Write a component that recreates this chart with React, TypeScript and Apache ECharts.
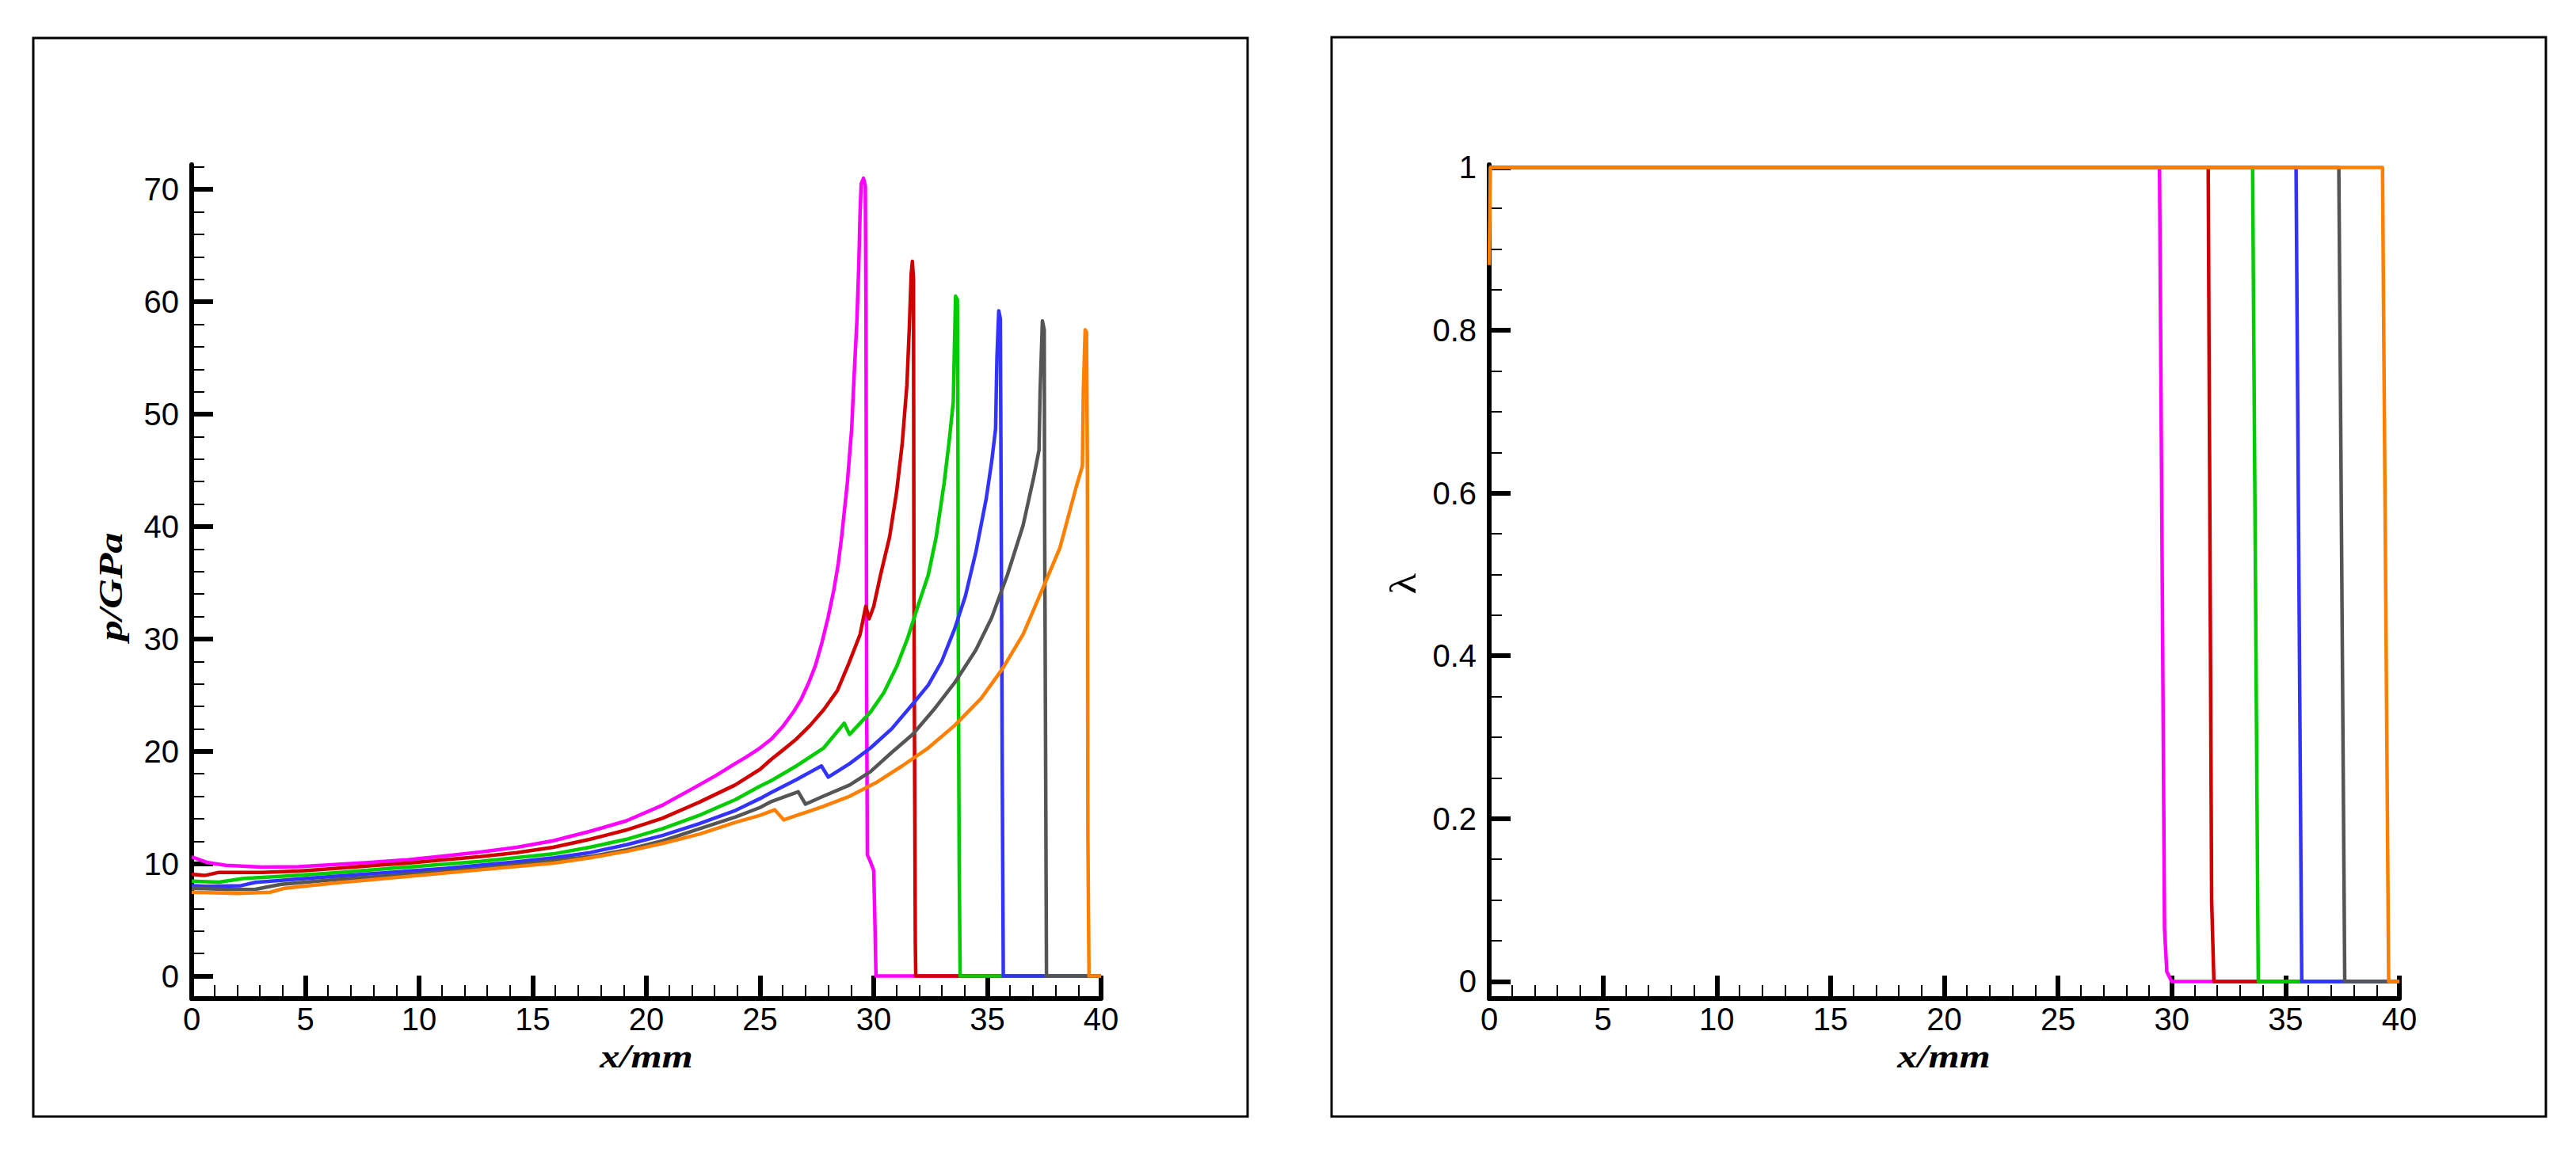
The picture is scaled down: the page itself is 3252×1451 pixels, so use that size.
import React, { useEffect, useRef } from "react";
import * as echarts from "echarts";

// ---------- tick values ----------
const xRange = [0, 40];
const pMajorTicks = [0, 10, 20, 30, 40, 50, 60, 70];
const pMinorTicks = [2, 4, 6, 8, 12, 14, 16, 18, 22, 24, 26, 28, 32, 34, 36, 38, 42, 44, 46, 48, 52, 54, 56, 58, 62, 64, 66, 68, 72];
const lambdaMajorTicks = [0, 0.2, 0.4, 0.6, 0.8, 1];
const lambdaMinorTicks = [0.05, 0.1, 0.15, 0.25, 0.3, 0.35, 0.45, 0.5, 0.55, 0.65, 0.7, 0.75, 0.85, 0.9, 0.95];

// ---------- colours ----------
const seriesColors = ["#FF00FF", "#D00000", "#00CC00", "#3333FF", "#555555", "#FF8000"];

// ---------- pressure p/GPa vs x/mm ----------
const pMagenta: [number, number][] = [
  [0, 10.6], [0.7, 10.1], [1.5, 9.86], [3.1, 9.7], [4.7, 9.74], [6.3, 9.93], [7.9, 10.12], [9.5, 10.35],
  [11.1, 10.68], [12.7, 11.04], [14.3, 11.46], [15.9, 12.04], [17.5, 12.87], [19.1, 13.8], [20.7, 15.2],
  [22.3, 16.98], [23.1, 17.9], [23.9, 18.9], [24.4, 19.5], [25.0, 20.3], [25.5, 21.1], [26.0, 22.2],
  [26.5, 23.6], [26.8, 24.6], [27.14, 26.1], [27.43, 27.6], [27.7, 29.5], [27.99, 31.9], [28.24, 34.3],
  [28.44, 36.7], [28.59, 39.1], [28.84, 43.9], [29.03, 48.7], [29.14, 53.5], [29.26, 58.3],
  [29.34, 63.1], [29.4, 67.9], [29.45, 70.5], [29.55, 71.0], [29.63, 70.3], [29.66, 60], [29.69, 25],
  [29.72, 10.8], [29.85, 10.2], [30.0, 9.4], [30.05, 5], [30.1, 0], [40, 0],
];
const pRed: [number, number][] = [
  [0, 9.06], [0.57, 8.95], [1.2, 9.23], [3.1, 9.23], [4.7, 9.34], [6.3, 9.58], [7.9, 9.82], [9.5, 10.05],
  [11.1, 10.35], [12.7, 10.63], [14.3, 10.99], [15.9, 11.46], [17.5, 12.16], [19.1, 12.99], [20.7, 14.04],
  [22.3, 15.45], [23.9, 17.0], [25.0, 18.4], [25.5, 19.3], [26.0, 20.1], [26.6, 21.1], [27.2, 22.3],
  [27.8, 23.7], [28.4, 25.4], [28.9, 27.8], [29.4, 30.4], [29.65, 32.9], [29.8, 31.8], [30.0, 32.9],
  [30.3, 35.7], [30.7, 39.1], [31.0, 43.0], [31.25, 47.3], [31.46, 52.6], [31.57, 57.9], [31.65, 62.5],
  [31.7, 63.6], [31.75, 62], [31.77, 34], [31.83, 3], [31.85, 0], [40, 0],
];
const pGreen: [number, number][] = [
  [0, 8.45], [1.2, 8.36], [2.3, 8.69], [3.9, 8.87], [6.3, 9.18], [9.5, 9.7], [12.7, 10.21], [15.9, 10.87],
  [17.5, 11.46], [19.1, 12.16], [20.7, 13.1], [22.3, 14.28], [23.9, 15.69], [25.0, 16.9], [25.5, 17.4],
  [26.6, 18.7], [27.8, 20.3], [28.7, 22.5], [28.94, 21.5], [29.17, 22.0], [29.86, 23.5], [30.44, 25.2],
  [31.02, 27.6], [31.48, 30.0], [31.94, 32.9], [32.4, 35.7], [32.75, 39.1], [33.1, 43.9], [33.33, 47.8],
  [33.5, 51.1], [33.55, 56], [33.6, 60.5], [33.68, 60.2], [33.7, 52], [33.72, 30], [33.76, 10], [33.8, 0], [40, 0],
];
const pBlue: [number, number][] = [
  [0, 8.05], [0.73, 7.98], [2.17, 8.05], [2.81, 8.34], [4.73, 8.64], [7.93, 9.11], [11.13, 9.58], [14.33, 10.17],
  [15.93, 10.52], [17.53, 10.99], [19.13, 11.69], [20.73, 12.52], [22.33, 13.57], [23.93, 14.75], [25.0, 15.8],
  [25.46, 16.3], [26.62, 17.5], [27.7, 18.7], [28.0, 17.7], [28.94, 18.9], [29.86, 20.3], [30.79, 22.0],
  [31.71, 24.2], [32.4, 25.9], [32.99, 28.0], [33.56, 30.9], [34.03, 33.8], [34.49, 37.7], [34.95, 42.5],
  [35.19, 45.8], [35.36, 48.7], [35.42, 55], [35.5, 59.2], [35.57, 58.5], [35.6, 45], [35.65, 20], [35.7, 0], [40, 0],
];
const pGray: [number, number][] = [
  [0, 7.82], [1.53, 7.7], [2.81, 7.73], [3.93, 8.17], [6.33, 8.59], [9.53, 9.06], [12.73, 9.58], [15.93, 10.28],
  [17.53, 10.63], [19.13, 11.23], [20.73, 12.04], [22.33, 13.1], [23.93, 14.16], [25.0, 15.0], [25.46, 15.5],
  [26.68, 16.4], [27.0, 15.3], [27.78, 16.0], [28.94, 17.0], [29.86, 18.2], [30.79, 19.9], [31.71, 21.5],
  [32.64, 23.7], [33.56, 26.1], [34.49, 29.0], [35.19, 31.9], [35.88, 35.7], [36.57, 40.1], [37.04, 44.4],
  [37.27, 46.8], [37.32, 52], [37.42, 58.3], [37.5, 57.5], [37.52, 40], [37.6, 0], [40, 0],
];
const pOrange: [number, number][] = [
  [0, 7.46], [2.01, 7.35], [3.45, 7.46], [4.09, 7.82], [6.33, 8.29], [9.53, 8.87], [12.73, 9.46], [15.93, 10.05],
  [17.53, 10.52], [19.13, 11.1], [20.73, 11.81], [22.33, 12.63], [23.93, 13.69], [25.0, 14.3], [25.64, 14.8],
  [26.04, 13.9], [26.62, 14.3], [27.78, 15.1], [28.94, 16.0], [30.09, 17.2], [31.25, 18.7], [32.4, 20.3],
  [33.56, 22.3], [34.72, 24.7], [35.65, 27.3], [36.57, 30.4], [37.5, 34.8], [38.19, 38.1], [38.89, 43.4],
  [39.18, 45.4], [39.22, 52], [39.3, 57.5], [39.36, 57.3], [39.4, 45], [39.42, 12.6], [39.47, 0], [40, 0],
];

// ---------- reaction progress lambda vs x/mm ----------
const lamMagenta: [number, number][] = [[0, 1], [29.46, 1], [29.68, 0.065], [29.78, 0.012], [29.99, 0], [40, 0]];
const lamRed: [number, number][] = [[0, 1], [31.6, 1], [31.75, 0.1], [31.85, 0], [40, 0]];
const lamGreen: [number, number][] = [[0, 1], [33.55, 1], [33.8, 0], [40, 0]];
const lamBlue: [number, number][] = [[0, 1], [35.46, 1], [35.71, 0], [40, 0]];
const lamGray: [number, number][] = [[0, 1], [37.34, 1], [37.6, 0], [40, 0]];
const lamOrange: [number, number][] = [[0, 0.88], [0.05, 1], [39.26, 1], [39.53, 0], [40, 0]];

const pressureSeries = [pMagenta, pRed, pGreen, pBlue, pGray, pOrange];
const lambdaSeries = [lamMagenta, lamRed, lamGreen, lamBlue, lamGray, lamOrange];

const LABEL_FONT = '"Liberation Sans", Arial, Helvetica, sans-serif';
const TITLE_FONT = '"Liberation Serif", "Times New Roman", serif';

function makeXAxis(gridIndex: number) {
  return {
    type: "value",
    gridIndex,
    position: "bottom",
    min: xRange[0],
    max: xRange[1],
    interval: 5,
    axisLine: { show: true, onZero: false, lineStyle: { color: "#000", width: 6 } },
    axisTick: { show: true, inside: true, length: 29, lineStyle: { color: "#000", width: 6 } },
    minorTick: { show: true, splitNumber: 5, length: 17, lineStyle: { color: "#000", width: 2 } },
    axisLabel: { show: true, color: "#000", fontSize: 40, fontFamily: LABEL_FONT, margin: 6 },
    splitLine: { show: false },
    minorSplitLine: { show: false },
  };
}

function makeYAxes(gridIndex: number, min: number, max: number, major: number[], minor: number[]) {
  return [
    {
      type: "value",
      gridIndex,
      position: "left",
      offset: 0,
      min,
      max,
      axisLine: { show: true, onZero: false, lineStyle: { color: "#000", width: 6 } },
      axisTick: { show: true, inside: true, length: 27, customValues: major, lineStyle: { color: "#000", width: 6 } },
      axisLabel: { show: true, customValues: major, color: "#000", fontSize: 40, fontFamily: LABEL_FONT, margin: 16 },
      splitLine: { show: false },
    },
    {
      type: "value",
      gridIndex,
      position: "left",
      offset: 0,
      min,
      max,
      axisLine: { show: false, onZero: false },
      axisTick: { show: true, inside: true, length: 16, customValues: minor, lineStyle: { color: "#000", width: 2 } },
      axisLabel: { show: false },
      splitLine: { show: false },
    },
  ];
}

export default function App() {
  const ref = useRef<HTMLDivElement>(null);

  useEffect(() => {
    document.body.style.margin = "0";
    if (!ref.current) return;
    const chart = echarts.init(ref.current, undefined, { renderer: "svg" });

    const series: any[] = [];
    pressureSeries.forEach((data, i) => {
      series.push({
        type: "line",
        xAxisIndex: 0,
        yAxisIndex: 0,
        data,
        symbol: "none",
        showSymbol: false,
        lineStyle: { color: seriesColors[i], width: 4.5, join: "round" },
        itemStyle: { color: seriesColors[i] },
        z: 2 + i,
      });
    });
    lambdaSeries.forEach((data, i) => {
      series.push({
        type: "line",
        xAxisIndex: 1,
        yAxisIndex: 2,
        data,
        symbol: "none",
        showSymbol: false,
        lineStyle: { color: seriesColors[i], width: 4.5, join: "round" },
        itemStyle: { color: seriesColors[i] },
        z: 2 + i,
      });
    });

    chart.setOption({
      animation: false,
      backgroundColor: "#fff",
      grid: [
        { left: 242, top: 208, width: 1148, height: 1053, containLabel: false, outerBoundsMode: "none" },
        { left: 1880, top: 208, width: 1149, height: 1053, containLabel: false, outerBoundsMode: "none" },
      ],
      xAxis: [makeXAxis(0), makeXAxis(1)],
      yAxis: [
        ...makeYAxes(0, -2, 72.2, pMajorTicks, pMinorTicks),
        ...makeYAxes(1, -0.021, 1.0034, lambdaMajorTicks, lambdaMinorTicks),
      ],
      graphic: [
        {
          type: "rect",
          shape: { x: 42, y: 48, width: 1533, height: 1362 },
          style: { fill: "none", stroke: "#000", lineWidth: 3 },
          silent: true,
        },
        {
          type: "rect",
          shape: { x: 1681, y: 47, width: 1533, height: 1363 },
          style: { fill: "none", stroke: "#000", lineWidth: 3 },
          silent: true,
        },
        {
          type: "text",
          x: 816,
          y: 1334,
          scaleX: 1.2,
          style: { text: "x/mm", font: `italic bold 42px ${TITLE_FONT}`, fill: "#000", align: "center", verticalAlign: "middle" },
        },
        {
          type: "text",
          x: 2454,
          y: 1334,
          scaleX: 1.2,
          style: { text: "x/mm", font: `italic bold 42px ${TITLE_FONT}`, fill: "#000", align: "center", verticalAlign: "middle" },
        },
        {
          type: "text",
          x: 140,
          y: 741,
          rotation: Math.PI / 2,
          scaleX: 1.25,
          style: { text: "p/GPa", font: `italic bold 42px ${TITLE_FONT}`, fill: "#000", align: "center", verticalAlign: "middle" },
        },
        {
          type: "text",
          x: 1772,
          y: 737,
          rotation: Math.PI / 2,
          scaleX: 1.2,
          style: { text: "λ", font: `46px ${TITLE_FONT}`, fill: "#000", align: "center", verticalAlign: "middle" },
        },
      ],
      series,
    });

    return () => {
      chart.dispose();
    };
  }, []);

  return (
    <div
      ref={ref}
      style={{ position: "absolute", left: 0, top: 0, width: 3252, height: 1451, background: "#fff" }}
    />
  );
}
